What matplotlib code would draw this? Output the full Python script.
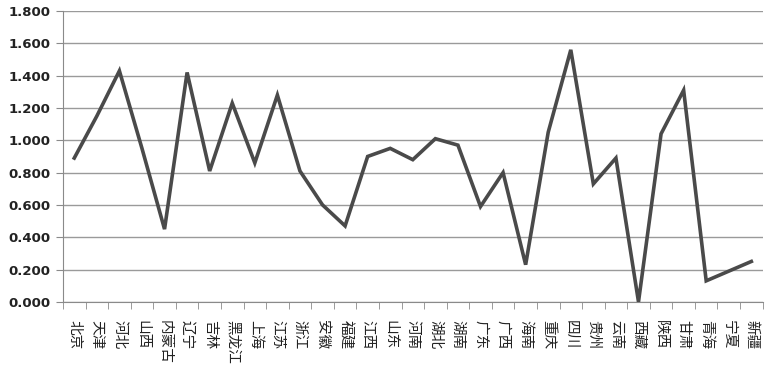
import numpy as np
import matplotlib.pyplot as plt
from matplotlib.ticker import FixedLocator

plt.rcParams['font.family'] = ['Noto Sans CJK SC', 'DejaVu Sans']

# Provinces and values
provinces = ['北京', '天津', '河北', '山西', '内蒙古', '辽宁', '吉林', '黑龙江', '上海', '江苏',
             '浙江', '安徽', '福建', '江西', '山东', '河南', '湖北', '湖南', '广东', '广西',
             '海南', '重庆', '四川', '贵州', '云南', '西藏', '陕西', '甘肃', '青海', '宁夏', '新疆']
values = [0.89, 1.15, 1.43, 0.95, 0.45, 1.42, 0.81, 1.23, 0.86, 1.28,
          0.81, 0.60, 0.47, 0.90, 0.95, 0.88, 1.01, 0.97, 0.59, 0.80,
          0.23, 1.05, 1.56, 0.73, 0.89, 0.00, 1.04, 1.31, 0.13, 0.19, 0.25]
y_ticks = [0.0, 0.2, 0.4, 0.6, 0.8, 1.0, 1.2, 1.4, 1.6, 1.8]

fig = plt.figure(figsize=(7.68, 3.69), dpi=100)
ax = fig.add_axes([0.082, 0.182, 0.911, 0.788])

x = np.arange(len(provinces))
ax.plot(x, values, color='#4a4a4a', linewidth=2.6, solid_joinstyle='miter', zorder=3)

ax.set_xlim(-0.5, len(provinces) - 0.5)
ax.set_ylim(0, 1.8)
ax.set_yticks(y_ticks)
ax.set_yticklabels(['%.3f' % v for v in y_ticks], fontsize=9.5, fontweight='bold',
                   color='#222222', family='DejaVu Sans')
ax.grid(axis='y', color='#9a9a9a', linewidth=1.0, zorder=0)

ax.set_xticks(x)
ax.set_xticklabels(provinces, rotation=-90, fontsize=10.5, color='#222222', va='top', ha='center')
ax.xaxis.set_minor_locator(FixedLocator(np.arange(-0.5, len(provinces), 1.0)))
ax.tick_params(axis='x', which='major', length=0, pad=13)
ax.tick_params(axis='x', which='minor', length=5, color='#8a8a8a', direction='out')
ax.tick_params(axis='y', length=5, color='#8a8a8a', pad=4)

for side in ['top', 'right']:
    ax.spines[side].set_visible(False)
for side in ['left', 'bottom']:
    ax.spines[side].set_color('#8a8a8a')

fig.savefig('out.png', dpi=100)
